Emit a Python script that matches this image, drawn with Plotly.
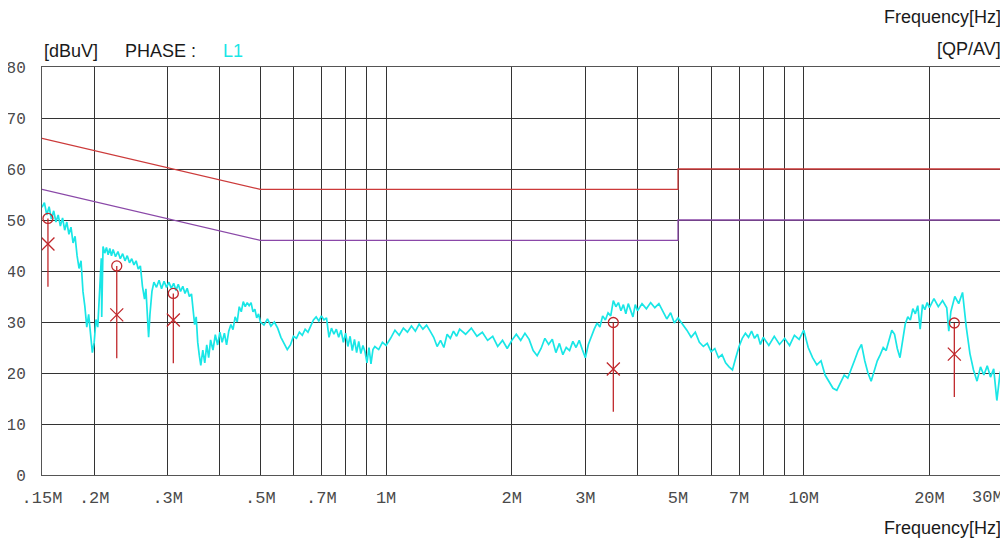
import math
import plotly.graph_objects as go

# ---------------- data ----------------
freq_mhz = [
    0.150, 0.152, 0.154, 0.156, 0.158, 0.160, 0.162, 0.164, 0.166, 0.168,
    0.170, 0.172, 0.174, 0.176, 0.178, 0.180, 0.182, 0.184, 0.186, 0.188,
    0.190, 0.192, 0.194, 0.196, 0.198, 0.200, 0.202, 0.204, 0.206, 0.208,
    0.2085, 0.210, 0.212, 0.214, 0.216, 0.218, 0.220, 0.222, 0.225, 0.228,
    0.231, 0.234, 0.237, 0.240, 0.243, 0.246, 0.249, 0.252, 0.255, 0.258,
    0.261, 0.264, 0.266, 0.268, 0.270, 0.272, 0.275, 0.278,
    0.282, 0.286, 0.290, 0.294, 0.298, 0.302, 0.306, 0.310, 0.314, 0.318,
    0.322, 0.326, 0.330, 0.334, 0.338, 0.342, 0.345, 0.348, 0.351, 0.354,
    0.357, 0.360,
    0.364, 0.368, 0.372, 0.376, 0.380, 0.385, 0.390, 0.395, 0.400, 0.405,
    0.410, 0.415, 0.420, 0.425, 0.430, 0.435, 0.440, 0.445, 0.450, 0.455,
    0.460, 0.465, 0.470, 0.475, 0.480, 0.485, 0.490, 0.495, 0.500,
    0.51, 0.52, 0.53, 0.54, 0.55, 0.56, 0.57, 0.58, 0.59, 0.60,
    0.61, 0.62, 0.63, 0.64, 0.65, 0.66, 0.67, 0.68, 0.69, 0.70,
    0.71, 0.72, 0.73, 0.74, 0.75, 0.76, 0.77, 0.78, 0.79, 0.80,
    0.81, 0.82, 0.83, 0.84, 0.85, 0.86, 0.87, 0.88, 0.89, 0.90,
    0.91, 0.92, 0.93, 0.94, 0.96, 0.98, 1.00,
    1.025, 1.05, 1.075, 1.10, 1.125, 1.15, 1.175, 1.20, 1.225, 1.25,
    1.275, 1.30, 1.325, 1.35, 1.375, 1.40, 1.425, 1.45, 1.475, 1.50,
    1.55, 1.60, 1.65, 1.70, 1.75, 1.80, 1.85, 1.90, 1.95, 2.00,
    2.05, 2.10, 2.15, 2.20, 2.25, 2.30, 2.35, 2.40, 2.45, 2.50,
    2.55, 2.60, 2.65, 2.70, 2.75, 2.80, 2.85, 2.90, 2.95, 3.00,
    3.05, 3.10, 3.15, 3.20, 3.25, 3.30, 3.35, 3.40, 3.45, 3.50,
    3.55, 3.60, 3.65, 3.70, 3.75, 3.80, 3.85, 3.90, 3.95, 4.00,
    4.1, 4.2, 4.3, 4.4, 4.5, 4.6, 4.7, 4.8, 4.9, 5.0,
    5.125, 5.25, 5.375, 5.5, 5.625, 5.75, 5.875, 6.0, 6.125, 6.25,
    6.375, 6.5, 6.625, 6.75, 6.875, 7.0, 7.125, 7.25, 7.375, 7.5,
    7.625, 7.75, 7.875, 8.0, 8.25, 8.5, 8.75, 9.0, 9.25, 9.5,
    9.75, 10.0,
    10.25, 10.5, 10.75, 11.0, 11.25, 11.5, 11.75, 12.0, 12.25, 12.5,
    12.75, 13.0, 13.25, 13.5, 13.75, 14.0, 14.25, 14.5, 14.75, 15.0,
    15.25, 15.5, 15.75, 16.0, 16.25, 16.5, 16.75, 17.0, 17.25, 17.5,
    17.75, 18.0, 18.25, 18.5, 18.75, 19.0, 19.25, 19.5, 19.75, 20.0,
    20.5, 21.0, 21.5, 22.0, 22.25, 22.5, 23.0, 23.5, 24.0, 24.5,
    25.0, 25.5, 26.0, 26.5, 27.0, 27.5, 28.0, 28.5, 29.0, 29.5, 30.0,
]

level_dbuv = [
    52.5, 53.4, 51.0, 52.6, 50.2, 51.8, 49.6, 51.0, 48.8, 50.4,
    48.0, 49.6, 47.2, 48.6, 45.5, 46.8, 43.0, 40.5, 42.0, 36.0,
    33.0, 29.0, 31.5, 27.0, 24.0, 26.0, 30.5, 29.0, 36.0, 42.5,
    31.0, 44.8, 43.5, 44.6, 43.2, 44.4, 43.0, 44.2, 42.8, 43.8,
    42.4, 43.4, 42.0, 43.0, 41.6, 42.4, 41.2, 42.0, 40.4, 41.0,
    37.0, 34.5, 36.5, 30.0, 27.0, 31.5, 36.0, 37.8,
    36.8, 38.2, 36.5, 38.0, 36.8, 37.8, 36.6, 37.6, 36.2, 37.4,
    36.0, 37.0, 35.6, 36.6, 35.0, 35.5, 32.0, 29.5, 31.0, 26.0,
    23.5, 21.5,
    24.5, 22.0, 25.5, 23.0, 26.5, 24.5, 27.5, 25.5, 28.0, 26.0,
    27.8, 25.5, 28.2, 29.5, 28.5, 31.0, 30.0, 33.0, 32.0, 34.0,
    33.0, 33.8, 33.2, 33.8, 32.0, 32.5, 30.8, 31.6, 30.0,
    29.4, 30.6, 29.2, 30.0, 28.8, 27.0, 25.8, 24.6, 25.5, 27.2,
    26.8, 28.0, 27.4, 28.6, 28.0, 29.2, 30.4, 31.0, 30.2, 31.2,
    30.4, 30.8, 27.0, 28.8, 27.6, 28.6, 27.0, 28.4, 26.0, 27.8,
    25.2, 27.2, 24.4, 26.6, 24.0, 26.2, 23.8, 25.4, 24.2, 22.0,
    25.0, 21.8, 24.6, 25.2, 24.6, 26.0, 25.4,
    26.8, 28.4, 27.4, 28.8, 28.0, 29.2, 28.2, 29.6, 28.6, 29.4,
    28.2, 27.0, 25.2, 26.4, 25.0, 27.6, 26.8, 28.2, 27.2, 28.6,
    27.6, 28.8, 27.2, 28.0, 26.4, 27.2, 25.2, 26.4, 24.8, 26.4,
    27.6, 26.4, 27.8, 26.6, 24.4, 23.4, 24.8, 26.8, 25.6, 26.6,
    24.0, 25.8, 23.6, 25.0, 24.4, 26.2, 25.0, 26.4, 24.6, 23.0,
    25.6, 27.2, 28.6, 29.8, 29.0, 31.2, 30.4, 31.8, 31.2, 34.2,
    33.0, 33.8, 32.2, 33.4, 31.6, 33.6, 32.4, 31.0, 33.4, 32.2,
    33.6, 32.6, 33.8, 32.8, 33.6, 32.0, 30.6, 31.8, 29.8, 30.8,
    29.6, 28.4, 27.0, 28.0, 26.0, 25.2, 25.8, 24.2, 24.8, 23.0,
    23.6, 22.0, 21.2, 20.6, 23.0, 25.2, 26.8, 27.8, 27.0, 28.2,
    26.8, 27.6, 25.6, 27.0, 25.4, 27.2, 25.6, 26.8, 25.4, 27.4,
    26.6, 28.4,
    25.0, 23.0, 21.6, 22.4, 19.6, 18.2, 17.0, 16.6, 18.0, 19.6,
    19.0, 21.0, 22.6, 24.4, 25.6, 22.4, 20.0, 18.4, 20.6, 22.4,
    23.6, 25.0, 24.4, 26.2, 28.4, 27.6, 24.8, 23.0, 26.0, 29.6,
    31.0, 30.4, 32.6, 31.6, 33.2, 28.6, 33.4, 32.4, 33.8, 32.8,
    34.6, 33.0, 34.2, 32.8, 28.2, 32.0, 35.0, 33.6, 35.8, 29.0,
    23.8, 20.6, 18.4, 21.2, 19.6, 21.4, 19.2, 20.8, 14.6, 19.8, 22.0,
]

# limit lines (QP and AV)
qp_limit_freq = [0.15, 0.5, 5.0, 5.0, 30.0]
qp_limit_level = [66, 56, 56, 60, 60]
av_limit_freq = [0.15, 0.5, 5.0, 5.0, 30.0]
av_limit_level = [56, 46, 46, 50, 50]

# final measurement markers
marker_freq = [0.155, 0.2265, 0.3094, 3.50, 22.94]
marker_qp = [50.3, 41.0, 35.6, 29.9, 29.8]
marker_av = [45.3, 31.4, 30.4, 20.8, 23.7]
marker_stem_bottom = [36.9, 22.9, 21.9, 12.4, 15.3]

grid_freqs = [0.15, 0.2, 0.3, 0.4, 0.5, 0.6, 0.7, 0.8, 0.9, 1, 2, 3, 4, 5, 6, 7, 8, 9, 10, 20, 30]
grid_labels = [".15M", ".2M", ".3M", "", ".5M", "", ".7M", "", "", "1M", "2M", "3M", "",
               "5M", "", "7M", "", "", "10M", "20M", ""]
last_label = "30M"
y_ticks = [0, 10, 20, 30, 40, 50, 60, 70, 80]

# ---------------- figure ----------------
RED = "#cc3a3a"
PURPLE = "#8a48a8"
CYAN = "#19e6e6"
MARK = "#c0282c"

fig = go.Figure()

fig.add_trace(go.Scatter(x=freq_mhz, y=level_dbuv, mode="lines",
                         line=dict(color=CYAN, width=1.7), hoverinfo="skip"))

fig.add_trace(go.Scatter(x=qp_limit_freq, y=qp_limit_level, mode="lines",
                         line=dict(color=RED, width=1.3)))
fig.add_trace(go.Scatter(x=av_limit_freq, y=av_limit_level, mode="lines",
                         line=dict(color=PURPLE, width=1.3)))

stem_x, stem_y = [], []
for f, q, b in zip(marker_freq, marker_qp, marker_stem_bottom):
    stem_x += [f, f, None]
    stem_y += [q, b, None]
fig.add_trace(go.Scatter(x=stem_x, y=stem_y, mode="lines",
                         line=dict(color=MARK, width=1.3)))
fig.add_trace(go.Scatter(x=marker_freq, y=marker_qp, mode="markers",
                         marker=dict(symbol="circle-open", size=10, color=MARK,
                                     line=dict(width=1.3, color=MARK))))
fig.add_trace(go.Scatter(x=marker_freq, y=marker_av, mode="markers",
                         marker=dict(symbol="x-thin-open", size=13, color=MARK,
                                     line=dict(width=1.3, color=MARK))))

tick_font = dict(family="Liberation Mono, Courier New, monospace", size=17, color="#4a4a4a")
ytick_font = dict(family="Liberation Mono, Courier New, monospace", size=16, color="#4a4a4a")
hdr_font = dict(family="Liberation Sans, Arial, sans-serif", size=18, color="#1a1a1a")

# the page adds an 8px body margin, so the figure is 1000x532 to fill 1008x540
fig.update_layout(
    width=1000, height=532,
    margin=dict(l=34, r=5, t=59, b=65, autoexpand=False),
    paper_bgcolor="white", plot_bgcolor="white",
    showlegend=False,
    xaxis=dict(type="log", automargin=False,
               range=[math.log10(0.15) - 1e-6, math.log10(30) + 1e-6],
               tickmode="array", tickvals=grid_freqs, ticktext=grid_labels,
               showgrid=True, gridcolor="#333333", gridwidth=1,
               showline=True, linecolor="#555555", linewidth=1, mirror=True,
               ticks="", tickfont=tick_font, ticklabelstandoff=7, zeroline=False),
    yaxis=dict(range=[0, 80], tickmode="array", tickvals=y_ticks, automargin=False,
               showgrid=True, gridcolor="#333333", gridwidth=1,
               showline=True, linecolor="#555555", linewidth=1, mirror=True,
               ticks="", tickfont=ytick_font, ticklabelstandoff=12, zeroline=False),
    annotations=[
        dict(text="[dBuV]", xref="paper", yref="paper", x=0.0, y=1.0, xanchor="left",
             yanchor="bottom", yshift=4, showarrow=False, font=hdr_font),
        dict(text="PHASE :", xref="paper", yref="paper", x=(123 - 42) / 961, y=1.0,
             xanchor="left", yanchor="bottom", yshift=4, showarrow=False, font=hdr_font),
        dict(text="L1", xref="paper", yref="paper", x=(221 - 42) / 961, y=1.0,
             xanchor="left", yanchor="bottom", yshift=4, showarrow=False,
             font=dict(family="Liberation Sans, Arial, sans-serif", size=18, color=CYAN)),
        dict(text="[QP/AV]", xref="paper", yref="paper", x=1.0, y=1.0, xanchor="right",
             yanchor="bottom", yshift=6, showarrow=False, font=hdr_font),
        dict(text="Frequency[Hz]", xref="paper", yref="paper", x=1.0, y=1.0, xanchor="right",
             yanchor="bottom", yshift=38, showarrow=False, font=hdr_font),
        dict(text="Frequency[Hz]", xref="paper", yref="paper", x=1.0, y=0.0, xanchor="right",
             yanchor="top", yshift=-41, showarrow=False, font=hdr_font),
        dict(text=last_label, xref="paper", yref="paper", x=1.0, y=0.0, xanchor="right",
             yanchor="top", yshift=-11, xshift=2, showarrow=False, font=tick_font),
    ],
)

fig.write_html("out.html")
